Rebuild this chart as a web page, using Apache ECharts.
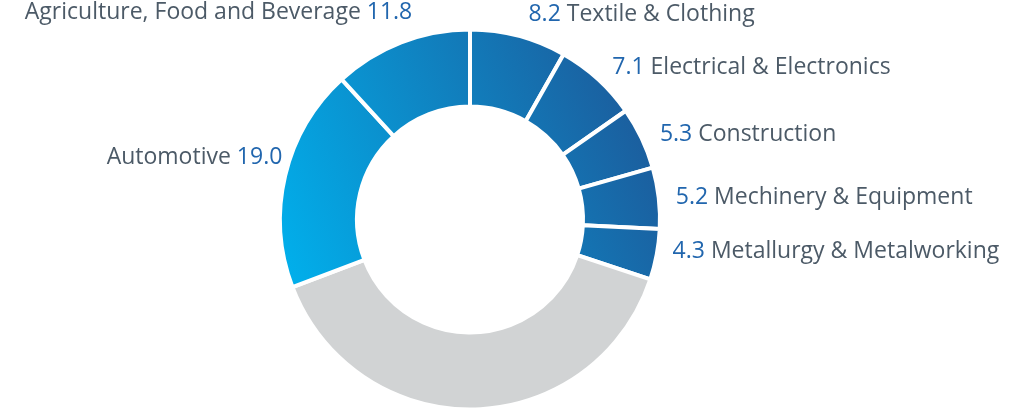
<!DOCTYPE html>
<html>
<head>
<meta charset="utf-8">
<script src="https://cdn.jsdelivr.net/npm/echarts@6/dist/echarts.min.js"></script>
<style>html,body{margin:0;padding:0;background:#fff;}#c{width:1024px;height:412px;}</style>
</head>
<body>
<div id="c"></div>
<script>
const categories = ['Textile & Clothing', 'Electrical & Electronics', 'Construction', 'Mechinery & Equipment', 'Metallurgy & Metalworking', 'Other', 'Automotive', 'Agriculture, Food and Beverage'];
const values = [8.2, 7.1, 5.3, 5.2, 4.3, 39.1, 19.0, 11.8];
const valueLabels = ['8.2', '7.1', '5.3', '5.2', '4.3', '', '19.0', '11.8'];
const hiddenLabel = 'Other';

const chart = echarts.init(document.getElementById('c'), null, {renderer: 'canvas'});
const blue = new echarts.graphic.LinearGradient(282, 300, 658, 140, [
  {offset: 0, color: '#00b2ee'},
  {offset: 1, color: '#1c5c9c'}
], true);
const labelDy = [-14, -6, 0, 0, -5, 0, -16, -22];
const labelDx = [-3, -2, 0, -2, -3, 0, 16, 25];

const data = categories.map((c, i) => {
  const isOther = c === hiddenLabel;
  return {
    name: c,
    value: values[i],
    itemStyle: {color: isOther ? '#d1d3d4' : blue},
    label: {show: !isOther}
  };
});

chart.setOption({
  animation: false,
  series: [{
    type: 'pie',
    center: [470, 219.5],
    radius: [113, 190],
    startAngle: 90,
    clockwise: true,
    avoidLabelOverlap: false,
    itemStyle: {borderColor: '#ffffff', borderWidth: 4},
    label: {
      position: 'outside',
      fontFamily: 'Open Sans',
      fontSize: 23,
      formatter: function (p) {
        const v = valueLabels[p.dataIndex];
        const idx = p.dataIndex;
        if (idx <= 4) return '{v|' + v + '} {n|' + p.name + '}';
        return '{n|' + p.name + '} {v|' + v + '}';
      },
      rich: {
        v: {color: '#2166ae', fontFamily: 'Open Sans', fontSize: 23},
        n: {color: '#4c5a67', fontFamily: 'Open Sans', fontSize: 23}
      }
    },
    labelLine: {show: false, length: 8, length2: 6},
    labelLayout: function (params) {
      return {dx: labelDx[params.dataIndex], dy: labelDy[params.dataIndex]};
    },
    emphasis: {disabled: true},
    data: data
  }]
});
</script>
</body>
</html>
